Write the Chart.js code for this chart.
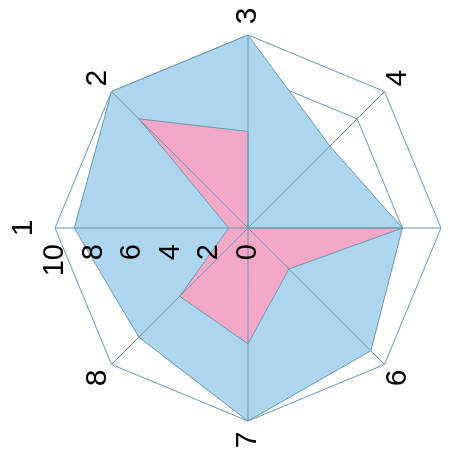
<!DOCTYPE html>
<html lang="en">
    <head>
        <meta charset="UTF-8">
        <title>Radar</title>
        <script src="https://cdn.jsdelivr.net/npm/chart.js@4/dist/chart.umd.min.js"></script>
        <style>
            body { margin: 0; background: #fff; overflow: hidden; width: 450px; height: 463px; }
            /* the whole chart is turned a quarter turn to the left */
            #frame { position: absolute; left: 0; top: 0; width: 463px; height: 450px;
                     transform-origin: 0 0; transform: translateY(463px) rotate(-90deg); }
            #wrap { position: absolute; left: -7px; top: 6px; width: 484px; height: 484px; }
        </style>
    </head>
    <body>
        <div id="frame">
            <div id="wrap">
                <canvas id="myChart" width="484" height="484"></canvas>
            </div>
        </div>
    </body>
    <script>
        const axes = ["1", "2", "3", "4", "5", "6", "7", "8"];
        const blueValues = [9, 10, 10, 6, 8, 9, 10, 8];
        const pinkValues = [1, 8, 5, 0, 8, 3, 6, 5];
        const tickStep = 2;

        const lineColor = "#6698b0";
        const font = "Liberation Sans";

        // angle lines go above the fills; tick labels beside the first axis,
        // axis labels centred a little outside the outer ring
        const overlay = {
            id: "overlay",
            afterDatasetsDraw(chart) {
                const r = chart.scales.r;
                const ctx = chart.ctx;
                ctx.save();
                ctx.strokeStyle = lineColor;
                ctx.lineWidth = 1;
                for (let i = 0; i < axes.length; i++) {
                    const p = r.getPointPositionForValue(i, r.max);
                    ctx.beginPath();
                    ctx.moveTo(r.xCenter, r.yCenter);
                    ctx.lineTo(p.x, p.y);
                    ctx.stroke();
                }
                ctx.fillStyle = "#000";
                ctx.textBaseline = "middle";
                ctx.font = "29px '" + font + "'";
                ctx.textAlign = "right";
                r.ticks.forEach(t => {
                    const p = r.getPointPositionForValue(0, t.value);
                    ctx.fillText(t.label, p.x - 16, p.y);
                });
                ctx.font = "30px '" + font + "'";
                ctx.textAlign = "center";
                for (let i = 0; i < axes.length; i++) {
                    // labels straight above / below sit a bit further out
                    const vertical = Math.abs(Math.cos(r.getIndexAngle(i))) > 0.99;
                    const p = r.getPointPosition(i, r.drawingArea + 19 + (vertical ? 12 : 0));
                    ctx.fillText(axes[i], p.x, p.y);
                }
                ctx.restore();
            }
        };

        new Chart("myChart", {
            type: "radar",
            data: {
                labels: axes,
                datasets: [{
                    data: pinkValues,
                    backgroundColor: "#f4a8c8",
                    borderColor: lineColor,
                    borderWidth: 1,
                    pointRadius: 0,
                    fill: true
                }, {
                    data: blueValues,
                    backgroundColor: "#afd6ef",
                    borderColor: lineColor,
                    borderWidth: 1,
                    pointRadius: 0,
                    fill: true
                }]
            },
            options: {
                responsive: false,
                animation: false,
                layout: {padding: 49},
                plugins: {legend: {display: false}, tooltip: {enabled: false}},
                elements: {line: {tension: 0}},
                scales: {
                    r: {
                        min: 0,
                        max: 10,
                        ticks: {display: false, stepSize: tickStep},
                        grid: {color: lineColor, lineWidth: 1},
                        angleLines: {display: false},
                        pointLabels: {display: false}
                    }
                }
            },
            plugins: [overlay]
        });
    </script>
</html>
